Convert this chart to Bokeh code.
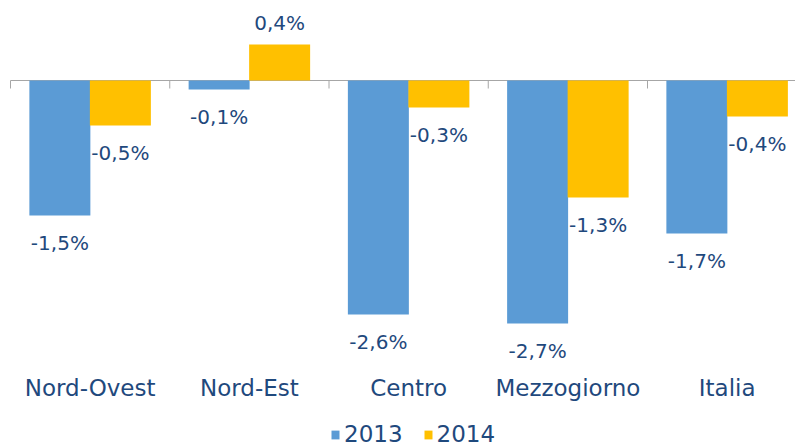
import numpy as np
from bokeh.plotting import figure
from bokeh.models import Range1d, Legend, LegendItem
from bokeh.core.properties import value
from bokeh.embed import file_html
from bokeh.resources import INLINE

categories = ["Nord-Ovest", "Nord-Est", "Centro", "Mezzogiorno", "Italia"]
series_names = ["2013", "2014"]
v2013 = [-1.5, -0.1, -2.6, -2.7, -1.7]
v2014 = [-0.5, 0.4, -0.3, -1.3, -0.4]

BLUE = "#5B9BD5"
GOLD = "#FFC000"
TEXT = "#1F497D"
FONT = "DejaVu Sans"

W, H = 795, 448
xs_scale = 159.25
x_start = -0.5 - 10 / xs_scale
x_end = x_start + W / xs_scale
y_end = 80 / 90.0
y_start = y_end - H / 90.0

p = figure(width=W, height=H, output_backend="svg", toolbar_location=None,
           x_range=Range1d(x_start, x_end), y_range=Range1d(y_start, y_end),
           min_border=0)
p.xaxis.visible = False
p.yaxis.visible = False
p.grid.visible = False
p.outline_line_color = None
p.background_fill_color = "white"

idx = np.arange(len(categories))
off = 0.19
bw = 0.383

# axis line at zero and tick marks
p.segment(x0=[-0.5], y0=[0], x1=[x_end], y1=[0], line_color="#A6A6A6", line_width=1)
ticks = np.arange(-0.5, len(categories), 1.0)
p.segment(x0=ticks, y0=np.zeros(len(ticks)), x1=ticks, y1=np.full(len(ticks), -8 / 90.0),
          line_color="#A6A6A6", line_width=1)

r1 = p.vbar(x=idx - off, top=v2013, bottom=0, width=bw, fill_color=BLUE, line_color=None)
r2 = p.vbar(x=idx + off, top=v2014, bottom=0, width=bw, fill_color=GOLD, line_color=None)


def fmt(v):
    return f"{v:.1f}".replace(".", ",") + "%"


for xs, vals in ((idx - off, v2013), (idx + off, v2014)):
    ly = [v - 27 / 90.0 if v < 0 else v + 22 / 90.0 for v in vals]
    p.text(x=xs, y=ly, text=[fmt(v) for v in vals], text_align="center",
           text_baseline="middle", text_color=TEXT, text_font=value(FONT),
           text_font_size="20px")

p.text(x=idx, y=np.full(len(idx), -(387 - 80) / 90.0), text=categories,
       text_align="center", text_baseline="middle", text_color=TEXT,
       text_font=value(FONT), text_font_size="23px")

legend = Legend(items=[LegendItem(label=series_names[0], renderers=[r1]),
                       LegendItem(label=series_names[1], renderers=[r2])],
                orientation="horizontal", location=(330, 1),
                padding=0, margin=0, spacing=20, label_standoff=4,
                glyph_width=10, glyph_height=11,
                label_text_font=FONT, label_text_font_size="23px",
                label_text_color=TEXT, border_line_color=None,
                background_fill_alpha=0)
p.add_layout(legend, "center")

open("out.html", "w").write(file_html(p, INLINE))
